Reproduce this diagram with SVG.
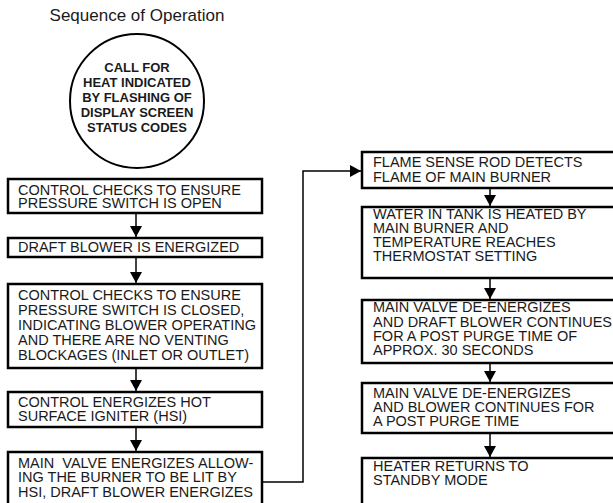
<svg xmlns="http://www.w3.org/2000/svg" width="613" height="503" viewBox="0 0 613 503">
<defs>
<marker id="ah" markerWidth="12" markerHeight="12" refX="11" refY="6" orient="auto" markerUnits="userSpaceOnUse">
<path d="M0,0 L11,6 L0,12 Z" fill="#000"/>
</marker>
<style>
.box{fill:#fff;stroke:#000;stroke-width:2.5}
.t{font-family:"Liberation Sans",Arial,sans-serif;font-size:14.5px;fill:#1a1a1a}
.c{font-family:"Liberation Sans",Arial,sans-serif;font-size:13px;font-weight:bold;fill:#1a1a1a;text-anchor:middle}
.ttl{font-family:"Liberation Sans",Arial,sans-serif;font-size:17px;fill:#1a1a1a;text-anchor:middle}
.ln{fill:none;stroke:#000;stroke-width:1.5}
</style>
</defs>
<rect width="613" height="503" fill="#fff"/>
<text class="ttl" x="137" y="21">Sequence of Operation</text>
<g id="connectors">
<line class="ln" x1="136" y1="213" x2="136" y2="237" marker-end="url(#ah)"/>
<line class="ln" x1="136" y1="257" x2="136" y2="283" marker-end="url(#ah)"/>
<line class="ln" x1="136" y1="368" x2="136" y2="391" marker-end="url(#ah)"/>
<line class="ln" x1="136" y1="427" x2="136" y2="451" marker-end="url(#ah)"/>
<polyline class="ln" points="262,482 303,482 303,171 361,171" marker-end="url(#ah)"/>
<line class="ln" x1="490" y1="188" x2="490" y2="206" marker-end="url(#ah)"/>
<line class="ln" x1="490" y1="278" x2="490" y2="299" marker-end="url(#ah)"/>
<line class="ln" x1="490" y1="363" x2="490" y2="382" marker-end="url(#ah)"/>
<line class="ln" x1="490" y1="433" x2="490" y2="457" marker-end="url(#ah)"/>
</g>
<g id="start">
<circle cx="137" cy="101" r="67" fill="#fff" stroke="#000" stroke-width="2"/>
<text class="c" x="137" y="72">CALL FOR</text>
<text class="c" x="137" y="87">HEAT INDICATED</text>
<text class="c" x="137" y="102">BY FLASHING OF</text>
<text class="c" x="137" y="117">DISPLAY SCREEN</text>
<text class="c" x="137" y="132">STATUS CODES</text>
</g>
<g id="n1">
<rect class="box" x="8" y="179" width="254" height="34"/>
<text class="t" x="18" y="195">CONTROL CHECKS TO ENSURE</text>
<text class="t" x="18" y="208">PRESSURE SWITCH IS OPEN</text>
</g>
<g id="n2">
<rect class="box" x="8" y="238" width="254" height="19"/>
<text class="t" x="18" y="252">DRAFT BLOWER IS ENERGIZED</text>
</g>
<g id="n3">
<rect class="box" x="8" y="284" width="254" height="84"/>
<text class="t" x="18" y="300">CONTROL CHECKS TO ENSURE</text>
<text class="t" x="18" y="315">PRESSURE SWITCH IS CLOSED,</text>
<text class="t" x="18" y="330">INDICATING BLOWER OPERATING</text>
<text class="t" x="18" y="345">AND THERE ARE NO VENTING</text>
<text class="t" x="18" y="360">BLOCKAGES (INLET OR OUTLET)</text>
</g>
<g id="n4">
<rect class="box" x="8" y="392" width="254" height="35"/>
<text class="t" x="18" y="407">CONTROL ENERGIZES HOT</text>
<text class="t" x="18" y="421">SURFACE IGNITER (HSI)</text>
</g>
<g id="n5">
<rect class="box" x="8" y="452" width="254" height="62"/>
<text class="t" x="18" y="468" xml:space="preserve">MAIN  VALVE ENERGIZES ALLOW-</text>
<text class="t" x="18" y="482">ING THE BURNER TO BE LIT BY</text>
<text class="t" x="18" y="497">HSI, DRAFT BLOWER ENERGIZES</text>
</g>
<g id="n6">
<rect class="box" x="362" y="152" width="262" height="36"/>
<text class="t" x="373" y="167">FLAME SENSE ROD DETECTS</text>
<text class="t" x="373" y="182">FLAME OF MAIN BURNER</text>
</g>
<g id="n7">
<rect class="box" x="362" y="207" width="262" height="71"/>
<text class="t" x="373" y="219">WATER IN TANK IS HEATED BY</text>
<text class="t" x="373" y="233">MAIN BURNER AND</text>
<text class="t" x="373" y="247">TEMPERATURE REACHES</text>
<text class="t" x="373" y="261">THERMOSTAT SETTING</text>
</g>
<g id="n8">
<rect class="box" x="362" y="300" width="262" height="63"/>
<text class="t" x="373" y="312">MAIN VALVE DE-ENERGIZES</text>
<text class="t" x="373" y="327">AND DRAFT BLOWER CONTINUES</text>
<text class="t" x="373" y="341">FOR A POST PURGE TIME OF</text>
<text class="t" x="373" y="355">APPROX. 30 SECONDS</text>
</g>
<g id="n9">
<rect class="box" x="362" y="383" width="262" height="50"/>
<text class="t" x="373" y="398">MAIN VALVE DE-ENERGIZES</text>
<text class="t" x="373" y="412">AND BLOWER CONTINUES FOR</text>
<text class="t" x="373" y="426">A POST PURGE TIME</text>
</g>
<g id="n10">
<rect class="box" x="362" y="458" width="262" height="50"/>
<text class="t" x="373" y="471">HEATER RETURNS TO</text>
<text class="t" x="373" y="485">STANDBY MODE</text>
</g>
</svg>
